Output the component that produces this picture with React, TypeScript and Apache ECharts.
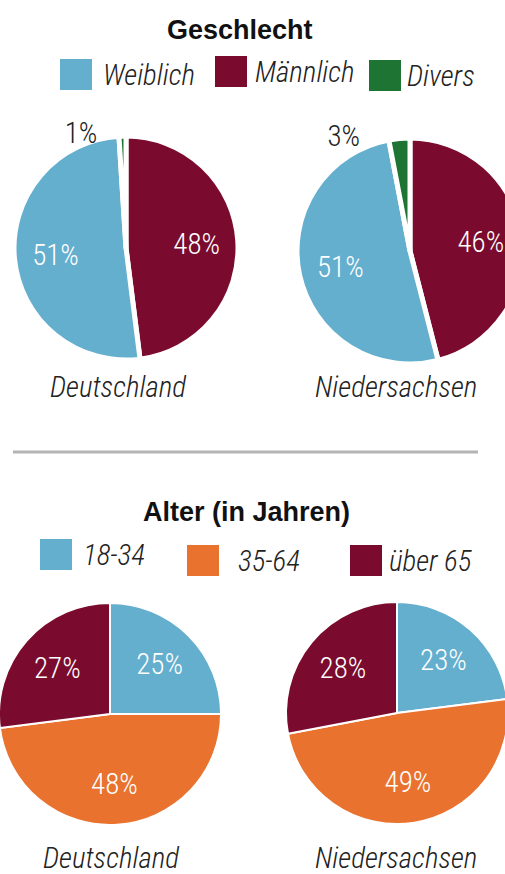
import React, { useEffect, useRef } from 'react';
import * as echarts from 'echarts';

// ---- data ----
const regions = ['Deutschland', 'Niedersachsen'];
const genderTitle = 'Geschlecht';
const genderLegend = ['Weiblich', 'Männlich', 'Divers'];
const genderOrder = ['Männlich', 'Weiblich', 'Divers'];
const genderDE = [48, 51, 1];
const genderNI = [46, 51, 3];
const ageTitle = 'Alter (in Jahren)';
const ageOrder = ['18-34', '35-64', 'über 65'];
const ageDE = [25, 48, 27];
const ageNI = [23, 49, 28];

const COLORS: Record<string, string> = {
  Weiblich: '#64AECE',
  'Männlich': '#7A0B2E',
  Divers: '#1E7432',
  '18-34': '#64AECE',
  '35-64': '#E9722F',
  'über 65': '#7A0B2E',
};

const NARROW = "'Roboto Condensed', 'Liberation Sans Narrow', 'Arial Narrow', sans-serif";
const WIDE = "'Liberation Sans', Arial, sans-serif";

function insideLayout(cx: number, cy: number, outsideIndex: number, k: number) {
  return (params: any) => {
    if (params.dataIndex === outsideIndex) return {};
    const r = params.labelRect;
    const lx = r.x + r.width / 2;
    const ly = r.y + r.height / 2;
    return { dx: (lx - cx) * k, dy: (ly - cy) * k };
  };
}

function pieSeries(
  names: string[],
  values: number[],
  center: [number, number],
  radius: number,
  border: number,
  outsideIndex: number,
  outsideLen2: number
) {
  return {
    type: 'pie',
    center,
    radius: [0, radius],
    startAngle: 90,
    clockwise: true,
    avoidLabelOverlap: false,
    silent: true,
    itemStyle: { borderColor: '#ffffff', borderWidth: border },
    label: {
      show: true,
      position: 'inside',
      formatter: '{c}%',
      color: '#ffffff',
      fontFamily: NARROW,
      fontWeight: 300,
      fontSize: 29,
    },
    labelLine: { show: false },
    labelLayout: insideLayout(center[0], center[1], outsideIndex, 0.2),
    data: names.map((n, i) => {
      const item: any = { name: n, value: values[i], itemStyle: { color: COLORS[n] } };
      if (i === outsideIndex) {
        item.label = { position: 'outside', color: '#222222', distanceToLabelLine: 5 };
        item.labelLine = { show: false, length: 3, length2: outsideLen2 };
      }
      return item;
    }),
  };
}

function legendItem(name: string, left: number, top: number, gap: number) {
  return {
    data: [name],
    left,
    top,
    orient: 'horizontal',
    icon: 'rect',
    itemWidth: 34,
    itemHeight: 33,
    padding: 0,
    selectedMode: false,
    textStyle: {
      fontFamily: NARROW,
      fontStyle: 'italic',
      fontWeight: 300,
      fontSize: 29,
      color: '#222222',
      padding: [0, 0, 0, gap],
    },
  };
}

function titleItem(text: string, left: number, top: number, bold: boolean) {
  return {
    text,
    left,
    top,
    padding: 0,
    textStyle: bold
      ? { fontFamily: WIDE, fontWeight: 'bold', fontSize: 27, color: '#111111' }
      : { fontFamily: NARROW, fontStyle: 'italic', fontWeight: 300, fontSize: 29, color: '#222222' },
  };
}

export default function App() {
  const ref = useRef<HTMLDivElement>(null);
  useEffect(() => {
    if (!ref.current) return;
    const chart = echarts.init(ref.current, null, { renderer: 'svg' });
    chart.setOption({
      animation: false,
      backgroundColor: '#ffffff',
      title: [
        titleItem(genderTitle, 167, 16, true),
        titleItem(regions[0], 50, 372, false),
        titleItem(regions[1], 315, 372, false),
        titleItem(ageTitle, 143, 498, true),
        titleItem(regions[0], 43, 843, false),
        titleItem(regions[1], 315, 843, false),
      ],
      legend: [
        legendItem(genderLegend[0], 58, 57, 5),
        legendItem(genderLegend[1], 213, 54, 2),
        legendItem(genderLegend[2], 367, 58, 0),
        legendItem(ageOrder[0], 38, 537, 5),
        legendItem(ageOrder[1], 185, 543, 13),
        legendItem(ageOrder[2], 348, 543, 1),
      ],
      graphic: [
        {
          type: 'line',
          shape: { x1: 13, y1: 452, x2: 478, y2: 452 },
          style: { stroke: '#b4b4b4', lineWidth: 3 },
        },
      ],
      series: [
        pieSeries(genderOrder, genderDE, [126, 248], 112, 5, 2, 20),
        pieSeries(genderOrder, genderNI, [410, 251], 113, 5, 2, 34),
        pieSeries(ageOrder, ageDE, [110, 714], 111, 2, -1, 0),
        pieSeries(ageOrder, ageNI, [397, 713], 111, 2, -1, 0),
      ],
    });
    return () => chart.dispose();
  }, []);
  return (
    <div
      ref={ref}
      style={{ position: 'absolute', left: 0, top: 0, width: 505, height: 874, background: '#fff' }}
    />
  );
}
